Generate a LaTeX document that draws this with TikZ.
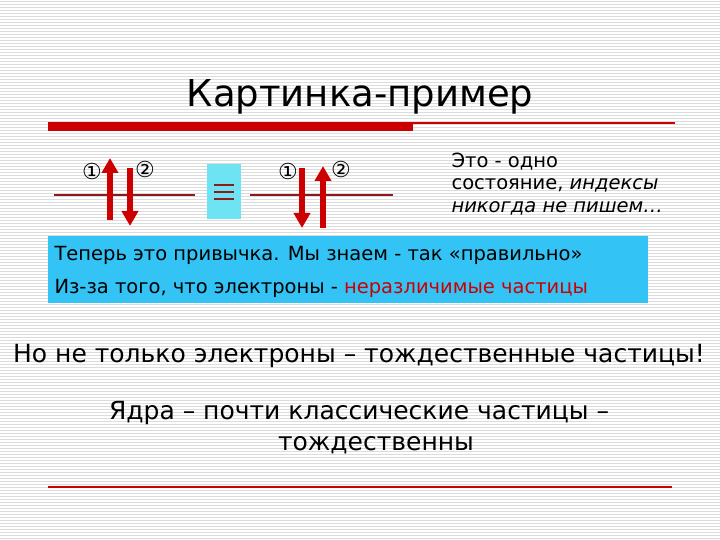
\documentclass[tikz,border=0pt]{standalone}
\usepackage{fontspec}
\usetikzlibrary{arrows.meta}
\setmainfont{DejaVu Sans}
\definecolor{rd}{HTML}{CC0000}
\definecolor{bx}{HTML}{33C3F5}
\definecolor{eqbx}{HTML}{6EE3F2}
\definecolor{ln}{HTML}{8B1A1A}
\definecolor{stripe}{HTML}{DCDCDC}
\begin{document}
\begin{tikzpicture}[x=1pt,y=-1pt,
  arr/.style={rd,line width=5.5pt,-{Triangle[length=15pt,width=16pt]}},
  lvl/.style={ln,line width=1.8pt},
  num/.style={font=\fontsize{22}{22}\selectfont},
  txt/.style={anchor=west,font=\fontsize{19.5}{19.5}\selectfont},
  big/.style={font=\fontsize{25}{25}\selectfont}]
\useasboundingbox (0,0) rectangle (720,540);
\fill[white] (0,0) rectangle (720,540);
\foreach \y in {1.5,4.5,...,540} \draw[stripe,line width=0.8pt] (0,\y) -- (720,\y);
\node[font=\fontsize{37}{37}\selectfont] (title) at (360,97) {Картинка-пример};
\fill[rd] (48,122) rectangle (413,131);
\draw[rd,line width=1.3pt] (413,123) -- (675,123);
% left
\coordinate (l1) at (54,195); \coordinate (l2) at (195,195);
\draw[lvl] (l1) -- (l2);
\coordinate (a1s) at (110,220); \coordinate (a1e) at (110,158);
\coordinate (a2s) at (130,168); \coordinate (a2e) at (130,226);
\draw[arr] (a1s) -- (a1e);
\draw[arr] (a2s) -- (a2e);
\node[num] (n1) at (92,171) {①};
\node[num] (n2) at (145,169) {②};
\node[fill=eqbx,minimum width=34pt,minimum height=55pt,inner sep=0pt] (eq) at (224,192) {};
\foreach \dy in {-7,0,7} \draw[ln,line width=2.6pt] ([xshift=-10pt,yshift=\dy pt]eq.center) -- ([xshift=10pt,yshift=\dy pt]eq.center);
\coordinate (r1) at (250,195); \coordinate (r2) at (393,195);
\draw[lvl] (r1) -- (r2);
\coordinate (b1s) at (302,168); \coordinate (b1e) at (302,228);
\coordinate (b2s) at (323,228); \coordinate (b2e) at (323,166);
\draw[arr] (b1s) -- (b1e);
\draw[arr] (b2s) -- (b2e);
\node[num] (n3) at (288,171) {①};
\node[num] (n4) at (341,169) {②};
\node[txt] (t1) at (448,162) {Это - одно};
\node[txt] (t2) at (448,185) {состояние, \textit{индексы}};
\node[txt] (t3) at (448,208) {\textit{никогда не пишем…}};
\fill[bx] (48,236) rectangle (648,303);
\node[txt] (b1) at (51,255) {Теперь это привычка. Мы знаем - так «правильно»};
\node[txt] (b2) at (51,288) {Из-за того, что электроны - \textcolor{rd}{неразличимые частицы}};
\node[big] (m1) at (359,356) {Но не только электроны – тождественные частицы!};
\node[big] (m2) at (359,413) {Ядра – почти классические частицы –};
\node[big] (m3) at (376,445) {тождественны};
\draw[rd,line width=1.3pt] (48,487) -- (672,487);
\end{tikzpicture}
\end{document}
